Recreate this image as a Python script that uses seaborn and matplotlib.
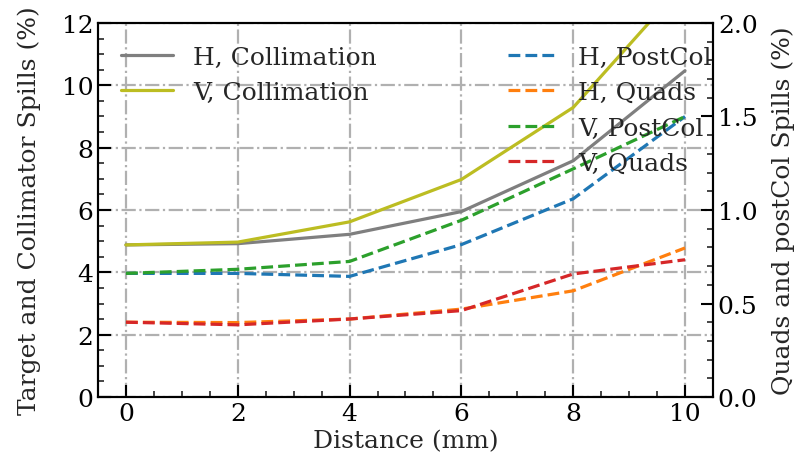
import matplotlib
matplotlib.use("Agg")
import matplotlib.pyplot as plt
import seaborn as sns
import pandas as pd
from matplotlib.ticker import MultipleLocator

distance = [0, 2, 4, 6, 8, 10]
h_collimation = [4.88, 4.92, 5.22, 5.95, 7.58, 10.47]
v_collimation = [4.88, 4.97, 5.62, 6.98, 9.29, 13.3]
h_postcol = [0.661, 0.661, 0.645, 0.815, 1.06, 1.50]
h_quads = [0.400, 0.398, 0.417, 0.470, 0.568, 0.797]
v_postcol = [0.661, 0.683, 0.725, 0.945, 1.22, 1.50]
v_quads = [0.400, 0.386, 0.417, 0.462, 0.658, 0.734]

sns.set_theme(style="ticks")
plt.rcParams['font.family'] = ['DejaVu Serif']
plt.rcParams['font.size'] = 18
plt.rcParams['mathtext.fontset'] = 'dejavuserif'

fig = plt.figure(figsize=(8.06, 4.77), dpi=100)
ax = fig.add_axes([0.1216, 0.1656, 0.7630, 0.7841])
ax2 = ax.twinx()

lw = 2.3
left_series = [("H, Collimation", h_collimation, "#7f7f7f"),
               ("V, Collimation", v_collimation, "#bcbd22")]
right_series = [("H, PostCol", h_postcol, "#1f77b4"),
                ("H, Quads", h_quads, "#ff7f0e"),
                ("V, PostCol", v_postcol, "#2ca02c"),
                ("V, Quads", v_quads, "#d62728")]

for name, vals, col in left_series:
    df = pd.DataFrame({"Distance": distance, "Spill": vals})
    sns.lineplot(data=df, x="Distance", y="Spill", ax=ax, color=col,
                 linewidth=lw, label=name, legend=False)
for name, vals, col in right_series:
    df = pd.DataFrame({"Distance": distance, "Spill": vals})
    sns.lineplot(data=df, x="Distance", y="Spill", ax=ax2, color=col,
                 linewidth=lw, linestyle="--", label=name, legend=False)

ax.set_xlim(-0.5, 10.5)
ax.set_ylim(0, 12)
ax2.set_ylim(0, 2.0)

ax.xaxis.set_major_locator(MultipleLocator(2))
ax.xaxis.set_minor_locator(MultipleLocator(0.5))
ax.yaxis.set_major_locator(MultipleLocator(2))
ax.yaxis.set_minor_locator(MultipleLocator(0.5))
ax2.yaxis.set_major_locator(MultipleLocator(0.5))
ax2.yaxis.set_minor_locator(MultipleLocator(0.1))
ax2.yaxis.set_major_formatter(matplotlib.ticker.FormatStrFormatter('%.1f'))

for a in (ax, ax2):
    a.tick_params(which='major', direction='in', length=9, width=1.5, labelsize=18, colors='black')
    a.tick_params(which='minor', direction='in', length=4.5, width=1.2)
    for s in a.spines.values():
        s.set_linewidth(1.5)
        s.set_color('black')
        s.set_visible(True)
ax.tick_params(axis='x', which='both', top=False)

ax.grid(True, which='major', linestyle='-.', color='#b0b0b0', linewidth=1.6)
ax2.grid(False)

ax.set_xlabel("Distance (mm)", fontsize=18, labelpad=3)
ax.set_ylabel("Target and Collimator Spills (%)", fontsize=18, labelpad=15)
ax2.set_ylabel("Quads and postCol Spills (%)", fontsize=18, labelpad=10)

ax.legend(loc='upper left', frameon=False, fontsize=18, handlelength=2.1)
ax2.legend(loc='upper left', bbox_to_anchor=(0.630, 1.0), frameon=False,
           fontsize=18, handlelength=2.0)

fig.savefig("out.png", dpi=100)
